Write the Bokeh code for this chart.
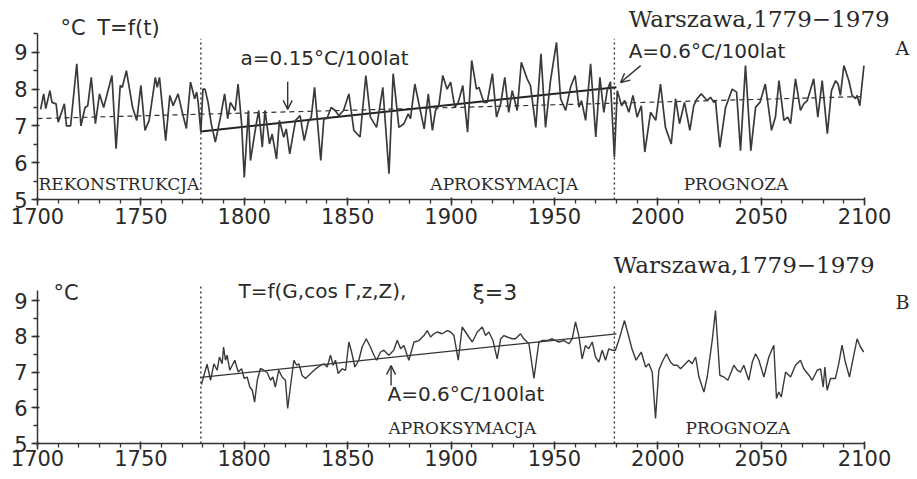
from bokeh.plotting import figure
from bokeh.layouts import column
from bokeh.models import Range1d, SingleIntervalTicker, Label, Arrow, OpenHead
from bokeh.embed import file_html
from bokeh.resources import INLINE

# ---------------- data ----------------
# Panel A: T = f(t)
a_years = [1701.5, 1703, 1704, 1706, 1707, 1709, 1710, 1713, 1714, 1716, 1719, 1721, 1723, 1724.3, 1726,
           1728, 1730, 1732, 1736, 1738, 1740, 1741, 1743, 1746, 1748, 1750, 1752, 1754, 1757, 1757.9,
           1759, 1762, 1764, 1765.6, 1768, 1770, 1772, 1774, 1776, 1777, 1777.7, 1779, 1780, 1781,
           1782.5, 1784, 1786, 1788.5, 1790.5, 1792, 1793.3, 1795.6, 1797, 1798.7, 1800, 1802, 1803,
           1805.4, 1807, 1808.7, 1810, 1812.2, 1813.5, 1815.6, 1817, 1819.1, 1820.3, 1822, 1824.8,
           1827, 1829, 1830.9, 1832.4, 1834, 1837, 1838.5, 1840, 1842, 1844, 1845.7, 1848, 1850.6,
           1853, 1854.6, 1856, 1858.8, 1861, 1864, 1867, 1870, 1872, 1874.8, 1877.2, 1879.3, 1880.4,
           1882.5, 1884.8, 1887, 1889, 1891, 1892.5, 1894.1, 1896, 1898.1, 1899.8, 1901.8, 1903.5,
           1905.7, 1908, 1910, 1912.3, 1913.5, 1915.9, 1917.5, 1920, 1922, 1924, 1926, 1927.9, 1929.6,
           1932, 1934, 1936.8, 1938.4, 1941, 1943.5, 1945.7, 1948.1, 1951, 1953, 1955.4, 1957.8, 1960,
           1961.9, 1963.1, 1965.1, 1967.5, 1970, 1972, 1973.9, 1975.5, 1977.1, 1979, 1980.4, 1982.5,
           1984, 1986, 1988, 1990, 1992, 1993.7, 1996.5, 1999, 2001.3, 2003.7, 2006.5, 2008.6, 2010.5,
           2012.9, 2015.5, 2017.4, 2019, 2021, 2023.9, 2025.5, 2027.1, 2027.9, 2030, 2032.8, 2036,
           2038.1, 2040, 2042.4, 2045, 2047.3, 2049.4, 2052, 2055, 2056.9, 2058.6, 2061, 2062.9, 2064.2,
           2066.6, 2069, 2070.6, 2072.3, 2075.4, 2077.4, 2079.5, 2082, 2084, 2086, 2087.2, 2088.3, 2090,
           2092.4, 2094, 2095.6, 2096.4, 2097.7, 2099.7]
a_temps = [7.45, 7.87, 7.47, 7.96, 7.64, 7.6, 7.1, 7.6, 7.0, 7.0, 8.69, 7.0, 7.5, 7.55, 8.32,
           7.06, 7.87, 7.5, 8.37, 6.38, 8.1, 8.05, 8.5, 7.5, 7.15, 8.1, 6.88, 7.15, 8.32, 8.05,
           8.32, 6.6, 7.83, 7.55, 7.87, 7.37, 6.93, 8.19, 7.74, 7.92, 7.64, 6.83, 8.0, 8.0,
           7.64, 7.07, 6.56, 7.24, 7.87, 7.2, 7.64, 7.42, 8.14, 7.07, 5.6, 7.42, 6.06,
           6.92, 7.42, 6.42, 7.42, 6.51, 6.78, 6.1, 7.15, 6.69, 6.92, 6.24, 7.15,
           7.28, 6.6, 7.1, 7.24, 8.05, 6.06, 7.2, 7.2, 7.5, 7.42, 7.28, 7.42, 7.87,
           6.88, 6.78, 6.7, 8.37, 7.24, 6.96, 8.05, 5.7, 8.42, 6.96, 7.06, 7.33, 7.2,
           8.14, 7.51, 6.92, 7.87, 6.88, 7.42, 7.55, 8.37, 8.0, 8.19, 7.51, 7.64,
           8.1, 6.83, 8.78, 8.0, 8.05, 7.64, 7.64, 8.42, 7.24, 7.6, 8.32, 7.37, 7.96,
           7.42, 8.73, 8.28, 8.1, 6.96, 8.96, 6.96, 8.23, 9.27, 7.74, 7.42, 8.05, 8.37,
           7.51, 7.69, 7.15, 8.69, 6.7, 8.32, 7.37, 7.96, 8.2, 6.15, 7.96, 7.55,
           7.69, 7.37, 7.83, 7.24, 7.55, 6.29, 7.37, 7.15, 8.14, 6.96, 6.51, 7.74, 7.06,
           7.64, 6.88, 7.55, 7.74, 7.87, 7.69, 7.78, 7.64, 7.69, 6.42, 7.51, 8.0,
           7.92, 6.33, 8.64, 6.33, 7.51, 7.64, 8.14, 6.88, 7.24, 8.23, 7.15, 7.24, 7.06,
           8.28, 7.42, 7.6, 7.69, 8.28, 7.24, 8.23, 6.79, 7.96, 8.23, 8.14, 7.83, 8.64,
           8.23, 7.83, 7.74, 7.83, 7.55, 8.64]

# Panel B: T = f(G, cos Γ, z, Z)
b_years = [1779.3, 1782, 1783.7, 1785.3, 1786.9, 1788, 1789.3, 1790, 1790.9, 1791.7, 1793, 1794.2,
           1795.4, 1797.1, 1798.7, 1800, 1801.4, 1802.7, 1803.9, 1805, 1806.3, 1807.8, 1809.5, 1811.1,
           1812.7, 1813.8, 1815, 1816.7, 1818.3, 1819.9, 1821, 1822.3, 1824, 1825.3, 1826.4, 1828,
           1829.6, 1832.1, 1834.5, 1837, 1838.5, 1840.1, 1841.7, 1843, 1844.1, 1845.4, 1847.4, 1849,
           1850.6, 1851.9, 1853.5, 1855.4, 1857, 1859, 1861, 1862.7, 1864, 1865.9, 1867.5, 1869.9,
           1872.3, 1874, 1875.6, 1877.2, 1879.6, 1882.1, 1884.5, 1886.9, 1888.5, 1890.1, 1891.7, 1893.3,
           1895.7, 1898.2, 1899.8, 1901.4, 1903.5, 1905.4, 1907, 1908.6, 1910.3, 1912.7, 1915.1, 1916.7,
           1918.3, 1920.3, 1922.3, 1924, 1925.6, 1927.2, 1929.6, 1931.2, 1933.6, 1935.2, 1937.7, 1940.1,
           1942.5, 1944.1, 1946.5, 1948.9, 1952.1, 1954.6, 1957, 1958.6, 1960.2, 1961.8, 1963.4, 1965,
           1966.6, 1968.3, 1969.9, 1971.5, 1973.1, 1974.7, 1976.3, 1977.9, 1979.5, 1981.1, 1983.9, 1986,
           1987.5, 1989.5, 1992, 1994.1, 1995.7, 1997.3, 1998.9, 2000.5, 2002.1, 2004.2, 2006.1, 2007.7,
           2009.4, 2011, 2013.4, 2015, 2016.6, 2018.3, 2019.9, 2022.3, 2023.9, 2026.3, 2027.9, 2029.1,
           2030, 2032, 2033.9, 2036.8, 2038.4, 2040, 2041.6, 2044, 2045.7, 2047.3, 2048.9, 2051.3,
           2053.7, 2056.1, 2057.4, 2058.5, 2059.7, 2061.8, 2064.2, 2066.6, 2069, 2070.6, 2073.1, 2074.7,
           2077.1, 2078.7, 2080, 2080.8, 2081.9, 2083.5, 2085.9, 2087.5, 2089.1, 2090.7, 2092.7, 2094.3,
           2096.4, 2098, 2099.6]
b_temps = [6.65, 7.22, 6.77, 7.23, 7.05, 7.42, 7.23, 7.7, 7.33, 7.47, 7.05, 7.19,
           7.33, 7.0, 7.09, 6.82, 6.86, 6.58, 6.49, 6.16, 6.77, 7.1, 7.05, 6.98,
           6.77, 6.86, 6.58, 7.05, 6.86, 6.77, 5.98, 6.58, 7.33, 7.19, 7.23, 6.9,
           6.82, 6.96, 7.09, 7.19, 7.23, 7.14, 7.47, 7.19, 7.33, 6.96, 7.09, 7.05,
           7.84, 7.56, 7.14, 7.33, 7.7, 7.93, 7.7, 7.47, 7.33, 7.56, 7.61, 7.47,
           7.61, 7.89, 7.65, 7.74, 7.33, 7.84, 7.88, 8.02, 8.16, 7.98, 8.07, 8.12,
           8.07, 8.16, 8.12, 8.02, 7.33, 8.26, 8.12, 7.98, 7.84, 8.12, 8.26, 8.02,
           8.12, 7.88, 7.37, 7.93, 8.02, 7.98, 7.93, 7.93, 8.07, 7.93, 7.79, 6.82,
           7.84, 7.88, 7.88, 7.93, 7.84, 7.88, 7.79, 7.93, 8.4, 8.02, 7.37, 7.74,
           7.65, 7.84, 7.42, 7.28, 7.61, 7.33, 7.65, 7.61, 7.61, 7.88, 8.44, 7.98,
           7.65, 7.33, 7.56, 7.14, 7.23, 7.0, 5.7, 7.05, 7.28, 7.51, 7.28, 7.19,
           7.19, 7.09, 7.23, 7.33, 7.23, 7.42, 6.86, 6.44, 6.86, 7.88, 8.72, 7.7,
           6.91, 6.86, 6.77, 7.19, 7.05, 7.0, 7.19, 6.77, 7.28, 7.51, 7.33, 6.86,
           7.42, 7.75, 6.26, 6.44, 6.3, 7.0, 6.86, 7.19, 7.33, 7.09, 6.91, 6.77,
           7.05, 7.09, 6.58, 7.14, 6.49, 6.82, 6.82, 7.23, 7.75, 7.28, 6.86, 7.33,
           7.93, 7.7, 7.56]

# trend lines
mean_trend_years = [1700, 2100]      # a = 0.15 °C / 100 lat
mean_trend_temps = [7.2, 7.8]
fit_trend_years = [1779, 1980]       # A = 0.6 °C / 100 lat
fit_trend_temps = [6.85, 8.05]
fit_trend_temps_b = [6.85, 8.07]
division_years = [1779, 1979]

INK = "#333333"
SANS = "DejaVu Sans"
SERIF = "DejaVu Serif"


def base_fig(height, y_top, border_bottom, y_bound, label_standoff):
    p = figure(width=917, height=height, x_range=Range1d(1700, 2125.6), y_range=Range1d(5, y_top),
               output_backend="svg", toolbar_location=None, title=None,
               min_border_left=37, min_border_right=0, min_border_top=0,
               min_border_bottom=border_bottom)
    p.outline_line_color = None
    p.xgrid.visible = False
    p.ygrid.visible = False
    p.xaxis.ticker = SingleIntervalTicker(interval=50, num_minor_ticks=5)
    p.yaxis.ticker = SingleIntervalTicker(interval=1, num_minor_ticks=2)
    p.xaxis.bounds = (1700, 2100)
    p.yaxis.bounds = (5, y_bound)
    for ax in (p.xaxis, p.yaxis):
        ax.axis_line_color = INK
        ax.axis_line_width = 1.5
        ax.major_tick_line_color = INK
        ax.minor_tick_line_color = INK
        ax.major_tick_line_width = 1.5
        ax.minor_tick_line_width = 1.3
        ax.major_tick_out = 6
        ax.major_tick_in = 2
        ax.minor_tick_out = 4
        ax.minor_tick_in = 0
        ax.major_label_text_font = SANS
        ax.major_label_text_font_size = "21px"
        ax.major_label_text_color = "#2a2a2a"
    p.xaxis.major_label_standoff = label_standoff
    p.yaxis.major_label_standoff = 4
    return p


def add_label(p, x, y, text, font=SANS, size="20px"):
    p.add_layout(Label(x=x, y=y, text=text, text_font=font, text_font_size=size,
                       text_color="#2a2a2a", text_align="left", text_baseline="middle"))


def add_arrow(p, x0, y0, x1, y1):
    p.add_layout(Arrow(end=OpenHead(size=9, line_width=1.4, line_color=INK),
                       x_start=x0, y_start=y0, x_end=x1, y_end=y1,
                       line_width=1.4, line_color=INK))


# ---------------- panel A ----------------
pA = base_fig(240, 10.41, 41, 9.5, 2)
pA.segment(x0=division_years, y0=[5, 5], x1=division_years, y1=[9.37, 9.37],
           line_color=INK, line_width=1.4, line_dash="2 3")
pA.line(mean_trend_years, mean_trend_temps, line_color=INK, line_width=1.2, line_dash="5 4")
pA.line(fit_trend_years, fit_trend_temps, line_color="#222222", line_width=2.0)
pA.line(a_years, a_temps, line_color="#3a3a3a", line_width=1.7)

add_label(pA, 1711.1, 9.65, "°C", size="21px")
add_label(pA, 1728.9, 9.65, "T=f(t)", size="21px")
add_label(pA, 1798.2, 8.86, "a=0.15°C/100lat")
add_label(pA, 1985.9, 9.05, "A=0.6°C/100lat")
add_label(pA, 1985.9, 9.9, "Warszawa,1779−1979", font=SERIF, size="23px")
add_label(pA, 2115, 9.13, "A", font=SERIF, size="19px")
add_label(pA, 1700.5, 5.42, "REKONSTRUKCJA", font=SERIF, size="17px")
add_label(pA, 1890, 5.42, "APROKSYMACJA", font=SERIF, size="17px")
add_label(pA, 2012.5, 5.42, "PROGNOZA", font=SERIF, size="17px")
add_arrow(pA, 1821, 8.2, 1821, 7.45)
add_arrow(pA, 1991.7, 8.64, 1982, 8.18)

# ---------------- panel B ----------------
pB = base_fig(239, 10.68, 36, 9.28, 0)
pB.segment(x0=division_years, y0=[5, 5], x1=division_years, y1=[9.42, 9.42],
           line_color=INK, line_width=1.4, line_dash="2 3")
pB.line(fit_trend_years, fit_trend_temps_b, line_color="#333333", line_width=1.3)
pB.line(b_years, b_temps, line_color="#3a3a3a", line_width=1.4)

add_label(pB, 1707.7, 9.22, "°C", size="21px")
add_label(pB, 1797.2, 9.27, "T=f(G,cos Γ,z,Z),")
add_label(pB, 1910.4, 9.22, "ξ=3", size="22px")
add_label(pB, 1978.6, 9.99, "Warszawa,1779−1979", font=SERIF, size="23px")
add_label(pB, 2115, 8.97, "B", font=SERIF, size="19px")
add_label(pB, 1869.3, 6.38, "A=0.6°C/100lat")
add_label(pB, 1869.8, 5.44, "APROKSYMACJA", font=SERIF, size="17px")
add_label(pB, 2013.4, 5.44, "PROGNOZA", font=SERIF, size="17px")
add_arrow(pB, 1871, 6.62, 1871, 7.18)

layout = column(pA, pB, spacing=0)
open("out.html", "w").write(file_html(layout, INLINE))
